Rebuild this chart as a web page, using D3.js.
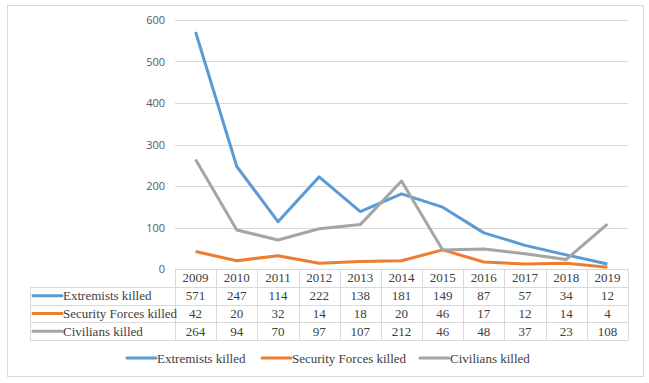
<!DOCTYPE html>
<html>
<head>
<meta charset="utf-8">
<script src="https://cdn.jsdelivr.net/npm/d3@7"></script>
<style>
  body { margin: 0; background: #fff; }
  svg { display: block; }
</style>
</head>
<body>
<svg width="649" height="383"></svg>
<script>
const years = ['2009', '2010', '2011', '2012', '2013', '2014', '2015', '2016', '2017', '2018', '2019'];
const extremists = [571, 247, 114, 222, 138, 181, 149, 87, 57, 34, 12];
const securityForces = [42, 20, 32, 14, 18, 20, 46, 17, 12, 14, 4];
const civilians = [264, 94, 70, 97, 107, 212, 46, 48, 37, 23, 108];
const yTicks = [0, 100, 200, 300, 400, 500, 600];

const seriesList = [
  { name: 'Extremists killed', values: extremists, color: '#5b9bd5' },
  { name: 'Security Forces killed', values: securityForces, color: '#ed7d31' },
  { name: 'Civilians killed', values: civilians, color: '#a5a5a5' }
];

const svg = d3.select('svg');
const gridColor = '#d9d9d9';
const textColor = '#404040';

// serif text helper (Times-like, as in the original)
const serifText = sel => sel
  .style('font-family', "'Liberation Serif', 'Times New Roman', serif")
  .style('font-size', '13px')
  .style('fill', textColor);

// outer chart border
svg.append('rect')
  .attr('x', 7.5).attr('y', 5.5)
  .attr('width', 636).attr('height', 371)
  .attr('fill', '#fff').attr('stroke', gridColor);

const plotLeft = 175, plotRight = 628, plotTop = 20, plotBottom = 269;

const x = d3.scaleBand().domain(years).range([plotLeft, plotRight]);
const y = d3.scaleLinear().domain([0, 600]).range([plotBottom, plotTop]);

// gridlines
svg.append('g').selectAll('line')
  .data(yTicks.filter(t => t > 0))
  .join('line')
  .attr('x1', plotLeft).attr('x2', plotRight)
  .attr('y1', d => Math.round(y(d)) + 0.5).attr('y2', d => Math.round(y(d)) + 0.5)
  .attr('stroke', gridColor);

// y axis labels
svg.append('g').selectAll('text')
  .data(yTicks)
  .join('text')
  .attr('x', 165)
  .attr('y', d => y(d) + 4)
  .attr('text-anchor', 'end')
  .style('font-family', "'Open Sans', 'Noto Sans', sans-serif")
  .style('font-size', '11px')
  .style('fill', '#595959')
  .text(d => d);

// lines
const line = d3.line()
  .x((d, i) => x(years[i]) + x.bandwidth() / 2)
  .y(d => y(d));

svg.append('g').selectAll('path')
  .data(seriesList)
  .join('path')
  .attr('d', d => line(d.values))
  .attr('fill', 'none')
  .attr('stroke', d => d.color)
  .attr('stroke-width', 3)
  .attr('stroke-linejoin', 'round');

// data table
const tableLeft = 30;
const rowH = 17.8;
const table = svg.append('g');
const rowY = i => plotBottom + rowH * i;  // i=0 header top

// horizontal lines
table.append('line')
  .attr('x1', plotLeft).attr('x2', plotRight)
  .attr('y1', plotBottom + 0.5).attr('y2', plotBottom + 0.5)
  .attr('stroke', gridColor);
[1, 2, 3, 4].forEach(i => {
  table.append('line')
    .attr('x1', tableLeft).attr('x2', plotRight)
    .attr('y1', Math.round(rowY(i)) + 0.5).attr('y2', Math.round(rowY(i)) + 0.5)
    .attr('stroke', gridColor);
});
// vertical lines
table.append('line')
  .attr('x1', tableLeft + 0.5).attr('x2', tableLeft + 0.5)
  .attr('y1', rowY(1)).attr('y2', rowY(4))
  .attr('stroke', gridColor);
d3.range(years.length + 1).forEach(i => {
  const xx = Math.round(plotLeft + x.bandwidth() * i) + 0.5;
  table.append('line')
    .attr('x1', xx).attr('x2', xx)
    .attr('y1', plotBottom).attr('y2', rowY(4))
    .attr('stroke', gridColor);
});

// header years
table.selectAll('.yr')
  .data(years)
  .join('text')
  .attr('class', 'yr')
  .attr('x', d => x(d) + x.bandwidth() / 2)
  .attr('y', rowY(0) + rowH / 2 + 4.5)
  .attr('text-anchor', 'middle')
  .call(serifText)
  .text(d => d);

seriesList.forEach((s, r) => {
  const cy = rowY(r + 1) + rowH / 2;
  table.append('line')
    .attr('x1', 33).attr('x2', 62)
    .attr('y1', cy).attr('y2', cy)
    .attr('stroke', s.color).attr('stroke-width', 3)
    .attr('stroke-linecap', 'round');
  table.append('text')
    .attr('x', 63).attr('y', cy + 4.5)
    .call(serifText)
    .text(s.name);
  table.selectAll('.v' + r)
    .data(s.values)
    .join('text')
    .attr('class', 'v' + r)
    .attr('x', (d, i) => x(years[i]) + x.bandwidth() / 2)
    .attr('y', cy + 4.5)
    .attr('text-anchor', 'middle')
    .call(serifText)
    .text(d => d);
});

// legend
const legendX = [127, 262, 420];
const legend = svg.append('g');
seriesList.forEach((s, i) => {
  const ly = 358;
  legend.append('line')
    .attr('x1', legendX[i]).attr('x2', legendX[i] + 29)
    .attr('y1', ly).attr('y2', ly)
    .attr('stroke', s.color).attr('stroke-width', 3)
    .attr('stroke-linecap', 'round');
  legend.append('text')
    .attr('x', legendX[i] + 30).attr('y', ly + 4.5)
    .call(serifText)
    .text(s.name);
});
</script>
</body>
</html>
